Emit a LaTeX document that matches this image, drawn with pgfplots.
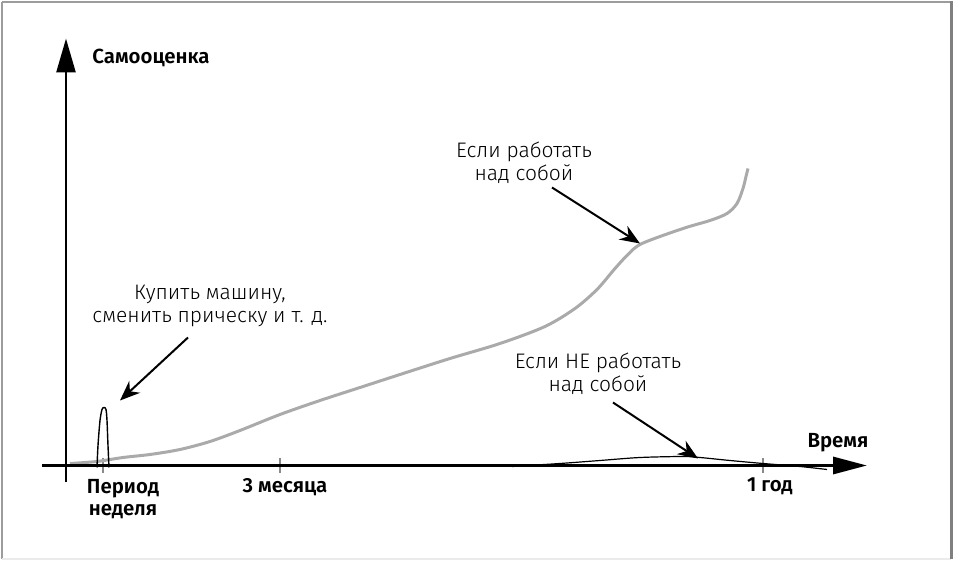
\documentclass[border=0pt]{standalone}
\usepackage{fontspec}
\setmainfont{Fira Sans}[BoldFont={Fira Sans SemiBold}]
\newfontfamily\lightfont{Fira Sans Light}
\usepackage{pgfplots}
\pgfplotsset{compat=1.18}
\usetikzlibrary{arrows.meta}
\definecolor{curvegray}{HTML}{AAAAAA}
\definecolor{framegray}{HTML}{9C9C9C}
\definecolor{tickgray}{HTML}{8A8A8A}

\begin{document}
\begin{tikzpicture}
\begin{axis}[
  x=0.5pt, y=0.5pt, y dir=reverse,
  xmin=0, xmax=955, ymin=0, ymax=560,
  hide axis, clip=false,
]
% frame
\draw[framegray, line width=1pt] (axis cs:1.5,1.5) -- (axis cs:951,1.5);
\draw[framegray, line width=1pt] (axis cs:1.5,1.5) -- (axis cs:1.5,558.5);
\draw[black!8, line width=0.7pt] (axis cs:1.5,558.5) -- (axis cs:951,558.5);
\draw[black!50, line width=1.5pt] (axis cs:951.5,1) -- (axis cs:951.5,559);
\path (axis cs:0,0) (axis cs:955,560);

% ticks
\draw[tickgray, line width=0.8pt] (axis cs:103,458) -- (axis cs:103,473);
\draw[tickgray, line width=0.8pt] (axis cs:280,458) -- (axis cs:280,473);
\draw[tickgray, line width=0.8pt] (axis cs:763,458) -- (axis cs:763,473);

% main rising curve
\addplot[curvegray, line width=1.5pt, smooth] coordinates {
(70,463) (97,461) (123,457) (150,454) (180,449) (210,441) (240,430)
(280,414) (320,400) (360,387) (400,374) (450,358) (500,343) (545,326)
(575,308) (597,289) (615,268) (628,254) (642,243) (683,228) (710,220)
(727,213) (737,203) (743,188) (746,176) (748,168)
};

% axes
\draw[line width=1.6pt, -{Triangle[length=17pt,width=8.5pt]}] (axis cs:42,465) -- (axis cs:867,465);
\draw[line width=1.3pt, -{Triangle[length=17pt,width=9.5pt]}] (axis cs:66,482) -- (axis cs:66,38);

% spike
\addplot[black, line width=0.7pt, smooth] coordinates {
(97,467) (98,445) (100,420) (102,409) (104,407) (106,409) (107,420) (108,445) (109,467)
};

% hump (not working on oneself)
\addplot[black, line width=0.6pt, smooth] coordinates {
(512,466) (560,463) (600,460) (640,457) (683,456) (700,457) (730,460) (763,463) (800,466) (827,469)
};

% annotation arrows
\draw[line width=1pt, -{Stealth[length=10pt,width=8pt]}] (axis cs:188,337) -- (axis cs:120,400);
\draw[line width=1pt, -{Stealth[length=10pt,width=8pt]}] (axis cs:552,187) -- (axis cs:640,243);
\draw[line width=1pt, -{Stealth[length=10pt,width=8pt]}] (axis cs:613,402) -- (axis cs:698,458);

% labels
\node[font=\bfseries\fontsize{10.2}{11.5}\selectfont, anchor=west, inner sep=0pt] at (axis cs:92,57) {Самооценка};
\node[font=\bfseries\fontsize{10.2}{11.5}\selectfont] at (axis cs:838,442) {Время};
\node[font=\bfseries\fontsize{10.2}{11}\selectfont, align=center] at (axis cs:123,499) {Период\\неделя};
\node[font=\bfseries\fontsize{10.2}{11.5}\selectfont] at (axis cs:285,487) {3 месяца};
\node[font=\bfseries\fontsize{10.2}{11.5}\selectfont] at (axis cs:770,486) {1 год};

\node[font=\lightfont\fontsize{10.5}{11.5}\selectfont, align=center] at (axis cs:210,305) {Купить машину,\\сменить прическу и т. д.};
\node[font=\lightfont\fontsize{10.5}{11.5}\selectfont, align=center] at (axis cs:524,162) {Если работать\\над собой};
\node[font=\lightfont\fontsize{10.5}{11.5}\selectfont, align=center] at (axis cs:598,373) {Если НЕ работать\\над собой};
\end{axis}
\end{tikzpicture}
\end{document}
